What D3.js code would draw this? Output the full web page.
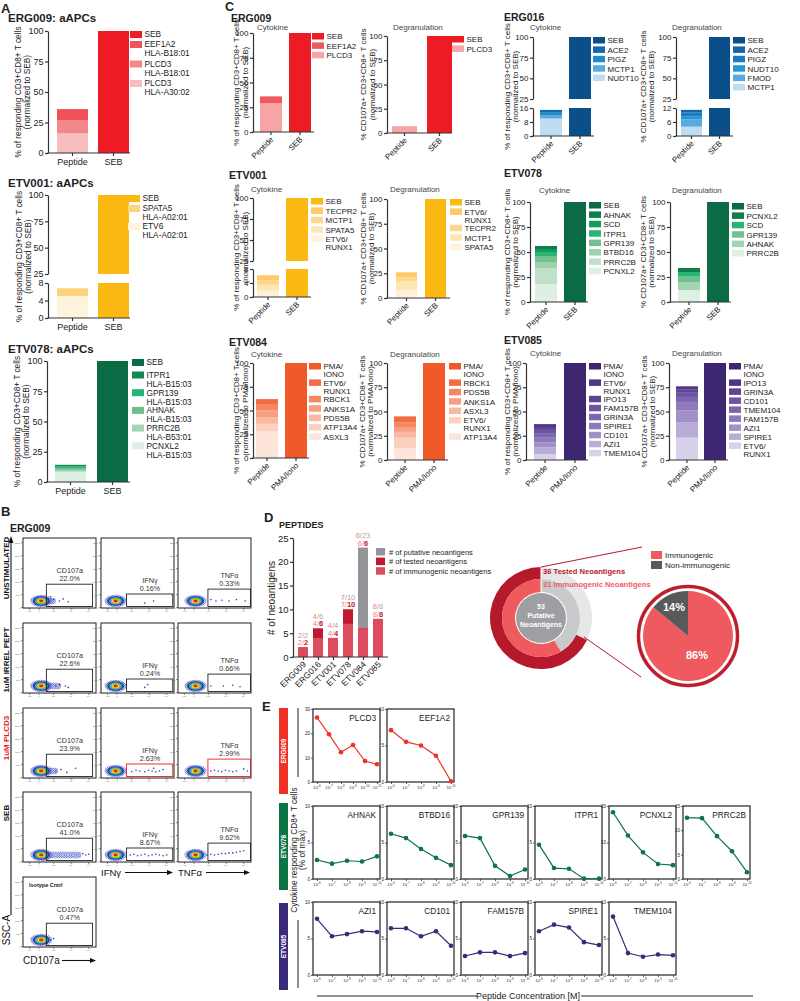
<!DOCTYPE html>
<html><head><meta charset="utf-8">
<script src="https://cdn.jsdelivr.net/npm/d3@7"></script>
<style>body{margin:0;background:#fff}svg{display:block}</style>
</head><body>
<svg id="c" width="800" height="1001" font-family="'Liberation Sans', Arial, Helvetica, sans-serif"></svg>
<script>
// ====================== DATA ======================
const catsSEB = ["Peptide", "SEB"];
const catsPMA = ["Peptide", "PMA/Iono"];
const pctTicks = [0, 25, 50, 75, 100];
const upperTicks = [25, 50, 75, 100];

// Panel A (aAPCs) – first value is control bar, rest peptide stack (legend order, top -> bottom)
const aERG009Legend = ["SEB", "EEF1A2|HLA-B18:01", "PLCD3|HLA-B18:01", "PLCD3|HLA-A30:02"];
const aERG009Values = [100, 9, 11, 16];
const aERG009Colors = ["#ED1C24", "#EF5258", "#F3888B", "#F8BDBE"];

const aETV001Legend = ["SEB", "SPATA5|HLA-A02:01", "ETV6|HLA-A02:01"];
const aETV001Values = [100, 1.8, 5];
const aETV001Colors = ["#FDB913", "#FDD47C", "#FEF3DB"];

const aETV078Legend = ["SEB", "ITPR1|HLA-B15:03", "GPR139|HLA-B15:03", "AHNAK|HLA-B15:03", "PRRC2B|HLA-B53:01", "PCNXL2|HLA-B15:03"];
const aETV078Values = [100, 1.2, 1.5, 1.5, 1.5, 8.5];
const aETV078Colors = ["#0A6B45", "#0F8A50", "#25B574", "#6EBF8C", "#A2D5B1", "#DDEFE3"];

// Panel C
const cERG009CytLegend = ["SEB", "EEF1A2", "PLCD3"];
const cERG009CytValues = [100, 7, 29];
const cERG009CytColors = ["#ED1C24", "#EF5A60", "#F6A4A6"];
const cERG009DegLegend = ["SEB", "PLCD3"];
const cERG009DegValues = [100, 7];
const cERG009DegColors = ["#ED1C24", "#F6A4A6"];

const cERG016CytLegend = ["SEB", "ACE2", "PIGZ", "MCTP1", "NUDT10"];
const cERG016CytValues = [100, 1.6, 1.6, 1.7, 10];
const cERG016CytColors = ["#0B4F8A", "#1268B0", "#1E8BCF", "#5AAAE0", "#BEDCF2"];
const cERG016DegLegend = ["SEB", "ACE2", "PIGZ", "NUDT10", "FMOD", "MCTP1"];
const cERG016DegValues = [100, 1.2, 1.5, 1.4, 3.1, 4];
const cERG016DegColors = ["#0B4F8A", "#1268B0", "#1A7DC3", "#2398D8", "#5AAAE0", "#BEDCF2"];

const cETV001CytLegend = ["SEB", "TECPR2", "MCTP1", "SPATA5", "ETV6/|RUNX1"];
const cETV001CytValues = [100, 1.5, 1.2, 1.7, 1.8];
const cETV001CytColors = ["#FDB913", "#FDCA66", "#FDD88D", "#FEE5B3", "#FEF2DC"];
const cETV001DegLegend = ["SEB", "ETV6/|RUNX1", "TECPR2", "MCTP1", "SPATA5"];
const cETV001DegValues = [100, 5, 4, 9, 8];
const cETV001DegColors = ["#FDB913", "#FDCA66", "#FDD88D", "#FEE5B3", "#FEF2DC"];

const cETV078CytLegend = ["SEB", "AHNAK", "SCD", "ITPR1", "GPR139", "BTBD16", "PRRC2B", "PCNXL2"];
const cETV078CytValues = [100, 3, 3, 4, 6, 6, 16, 18];
const cETV078CytColors = ["#0A6B45", "#0E7F4C", "#129A57", "#2AB574", "#72C08E", "#9DD2AD", "#BFE1C8", "#DEEFE3"];
const cETV078DegLegend = ["SEB", "PCNXL2", "SCD", "GPR139", "AHNAK", "PRRC2B"];
const cETV078DegValues = [100, 4, 4, 6, 8, 12];
const cETV078DegColors = ["#0A6B45", "#0E7F4C", "#2AB574", "#72C08E", "#A2D5B1", "#DEEFE3"];

const cETV084CytLegend = ["PMA/|IONO", "ETV6/|RUNX1", "RBCK1", "ANKS1A", "PDS5B", "ATP13A4", "ASXL3"];
const cETV084CytValues = [100, 6, 6, 7, 7, 8, 28];
const cETV084CytColors = ["#F05A28", "#F26D45", "#F58762", "#F7A081", "#F9B9A0", "#FBD0BF", "#FDE5DA"];
const cETV084DegLegend = ["PMA/|IONO", "RBCK1", "PDS5B", "ANKS1A", "ASXL3", "ETV6/|RUNX1", "ATP13A4"];
const cETV084DegValues = [100, 6, 5, 5, 6, 11, 12];
const cETV084DegColors = ["#F05A28", "#F26D45", "#F58762", "#F7A081", "#F9B9A0", "#FBD0BF", "#FDE5DA"];

const cETV085CytLegend = ["PMA/|IONO", "ETV6/|RUNX1", "IPO13", "FAM157B", "GRIN3A", "SPIRE1", "CD101", "AZI1", "TMEM104"];
const cETV085CytValues = [100, 3, 3, 4, 4, 5, 5, 7, 6];
const cETV085CytColors = ["#3D2770", "#503785", "#5E4594", "#6D55A2", "#7C66AF", "#8D79BB", "#A191C8", "#B9ADD8", "#D8D1EA"];
const cETV085DegLegend = ["PMA/|IONO", "IPO13", "GRIN3A", "CD101", "TMEM104", "FAM157B", "AZI1", "SPIRE1", "ETV6/|RUNX1"];
const cETV085DegValues = [100, 3, 3, 5, 6, 8, 12, 16, 23];
const cETV085DegColors = ["#3D2770", "#503785", "#5E4594", "#6D55A2", "#7C66AF", "#8D79BB", "#A191C8", "#B9ADD8", "#D8D1EA"];

// Panel B (flow)
const bRows = ["UNSTIMULATED", "1uM IRREL PEPT", "1uM PLCD3", "SEB"];
const bCols = ["CD107a", "IFNγ", "TNFα"];
const bPct = [["22.0%", "0.16%", "0.33%"], ["22.6%", "0.24%", "0.66%"], ["23.9%", "2.63%", "2.99%"], ["41.0%", "8.67%", "9.62%"]];
const bIsoPct = "0.47%";
const bTail = [[0.45, 0.3, 0.33], [0.52, 0.3, 0.35], [0.48, 0.3, 0.33], [0.8, 0.3, 0.33]];
const bEvents = [
  [[[0.42,0.88],[0.5,0.9],[0.55,0.87],[0.62,0.91],[0.38,0.84]], [[0.6,0.93],[0.72,0.9]], [[0.45,0.88],[0.52,0.9],[0.6,0.89],[0.7,0.9],[0.8,0.88],[0.92,0.9]]],
  [[[0.45,0.9],[0.5,0.88],[0.58,0.9],[0.62,0.92]], [[0.6,0.92],[0.64,0.88]], [[0.45,0.9],[0.62,0.9],[0.75,0.89],[0.85,0.91]]],
  [[[0.45,0.9],[0.52,0.88],[0.6,0.92],[0.72,0.86]], [[0.42,0.91],[0.48,0.89],[0.53,0.9],[0.6,0.91],[0.65,0.89],[0.7,0.9],[0.75,0.91],[0.8,0.9],[0.85,0.88],[0.72,0.86]], [[0.45,0.9],[0.5,0.89],[0.55,0.9],[0.6,0.91],[0.65,0.89],[0.7,0.9],[0.75,0.91],[0.8,0.9],[0.9,0.87],[0.95,0.9]]],
  [[[0.82,0.88],[0.86,0.9],[0.9,0.89]], [[0.4,0.9],[0.45,0.89],[0.5,0.91],[0.55,0.9],[0.6,0.89],[0.65,0.91],[0.7,0.9],[0.75,0.89],[0.8,0.9],[0.85,0.91],[0.9,0.9]], [[0.4,0.9],[0.45,0.89],[0.5,0.9],[0.55,0.89],[0.6,0.88],[0.65,0.88],[0.7,0.87],[0.75,0.87],[0.8,0.86],[0.85,0.85],[0.9,0.84]]]
];
const bIsoEvents = [[0.38, 0.9], [0.42, 0.88]];

// Panel D
const dCats = ["ERG009", "ERG016", "ETV001", "ETV078", "ETV084", "ETV085"];
const dPutative = [2, 6, 4, 10, 23, 8];
const dTested = [2, 6, 4, 10, 6, 8];
const dImmuno = [2, 4, 4, 7, 6, 8];
const dLegend = ["# of putative neoantigens", "# of tested neoantigens", "# of immunogenic neoantigens"];
const dTicks = [0, 5, 10, 15, 20, 25];
const donutCounts = [53, 36, 31]; // putative, tested, immunogenic
const donutLabels = ["36 Tested Neoantigens", "31 Immunogenic Neoantigens"];
const pieLabels = ["Immunogenic", "Non-immunogenic"];
const pieValues = [86, 14];

// Panel E
const eConc6 = ["-6", "-7", "-8", "-9", "-10", "-11"];
const eConc5 = ["-6", "-7", "-8", "-9", "-10"];
const eRowNames = ["ERG009", "ETV078", "ETV085"];
const eERG009Names = ["PLCD3", "EEF1A2"];
const eERG009Values = [[26.5, 19.6, 12.2, 15.2, 8.6, 7.3], [7.1, 5.5, 5.0, 3.6, 0.1]];
const eERG009Max = [30, 10];
const eETV078Names = ["AHNAK", "BTBD16", "GPR139", "ITPR1", "PCNXL2", "PRRC2B"];
const eETV078Values = [[2.6, 2.1, 2.5, 2.4, 3.1], [6.2, 5.6, 4.1, 2.9, 1.9], [5.9, 5.6, 1.8, 0.4, 1.3], [4.7, 1.5, 1.4, 0.05, 0.05], [18.3, 11.9, 7.3, 4.1, 3.8], [12.6, 12.5, 8.8, 5.7, 1.4]];
const eETV078Max = [10, 10, 10, 10, 20, 15];
const eETV085Names = ["AZI1", "CD101", "FAM157B", "SPIRE1", "TMEM104"];
const eETV085Values = [[7.7, 5.3, 5.6, 6.0, 5.9], [6.4, 6.4, 5.3, 6.0, 4.0], [2.6, 3.1, 3.1, 2.6, 3.0], [6.0, 6.9, 6.5, 4.5, 4.1], [8.0, 3.0, 2.5, 2.8, 2.7]];
const eETV085Max = [10, 10, 10, 10, 10];

// ====================== DRAW ======================
const svg = d3.select("#c");
const AX = "#333";
const FF = "'Liberation Sans', Arial, Helvetica, sans-serif";

// speckle pattern for flow event tails
const defs = svg.append("defs");
const pat = defs.append("pattern").attr("id", "spk").attr("width", 2.4).attr("height", 2.2).attr("patternUnits", "userSpaceOnUse");
pat.append("circle").attr("cx", 0.7).attr("cy", 0.6).attr("r", 0.65).attr("fill", "#2A3CB8");
pat.append("circle").attr("cx", 1.9).attr("cy", 1.7).attr("r", 0.6).attr("fill", "#3347C4");

function txt(g, x, y, s, o = {}) {
  const t = g.append("text").attr("x", x).attr("y", y).text(s)
    .attr("font-size", o.size || 8).attr("fill", o.fill || "#222");
  if (o.anchor) t.attr("text-anchor", o.anchor);
  if (o.bold) t.attr("font-weight", "bold");
  if (o.rot != null) t.attr("transform", `rotate(${o.rot},${x},${y})`);
  return t;
}
function styleAxis(ag, size) {
  ag.attr("font-family", FF);
  ag.select(".domain").attr("stroke", AX).attr("stroke-width", 1.2);
  ag.selectAll(".tick line").attr("stroke", AX).attr("stroke-width", 1.2);
  ag.selectAll(".tick text").attr("font-size", size).attr("fill", "#222");
}

function stackChart(L, legendArr, values, colors, cats) {
  const g = svg.append("g");
  const x = d3.scaleBand().domain(cats).range([L.bx, L.bx + L.bs + L.bw])
    .paddingInner((L.bs - L.bw) / L.bs).paddingOuter(0);
  let yU, yL;
  if (L.brk) {
    yU = d3.scaleLinear().domain([25, 100]).range([L.brk.y25, L.y100]);
    yL = d3.scaleLinear().domain([0, L.brk.lowMax]).range([L.y0, L.brk.yLow]);
  } else {
    yU = d3.scaleLinear().domain([0, 100]).range([L.y0, L.y100]);
  }
  const ctrl = cats[1];
  if (L.brk) {
    g.append("rect").attr("x", x(ctrl)).attr("width", x.bandwidth()).attr("y", yU(values[0]))
      .attr("height", yU(25) - yU(values[0])).attr("fill", colors[0]);
    g.append("rect").attr("x", x(ctrl)).attr("width", x.bandwidth()).attr("y", yL(L.brk.lowMax))
      .attr("height", yL(0) - yL(L.brk.lowMax)).attr("fill", colors[0]);
  } else {
    g.append("rect").attr("x", x(ctrl)).attr("width", x.bandwidth()).attr("y", yU(values[0]))
      .attr("height", yU(0) - yU(values[0])).attr("fill", colors[0]);
  }
  const yS = L.brk ? yL : yU;
  let cum = 0;
  for (let i = values.length - 1; i >= 1; i--) {
    const v = values[i];
    g.append("rect").attr("x", x(cats[0])).attr("width", x.bandwidth())
      .attr("y", yS(cum + v)).attr("height", yS(cum) - yS(cum + v)).attr("fill", colors[i]);
    cum += v;
  }
  const fs = L.tf || 8;
  const ya = g.append("g").attr("transform", `translate(${L.axisX},0)`)
    .call(d3.axisLeft(yU).tickValues(L.brk ? upperTicks : pctTicks).tickSize(3).tickSizeOuter(0).tickPadding(1.5));
  styleAxis(ya, fs);
  if (L.brk) {
    const yb = g.append("g").attr("transform", `translate(${L.axisX},0)`)
      .call(d3.axisLeft(yL).tickValues(L.brk.ticks).tickSize(3).tickSizeOuter(0).tickPadding(1.5));
    styleAxis(yb, fs);
  }
  g.append("line").attr("x1", L.axisX - 0.6).attr("x2", L.xEnd).attr("y1", L.y0).attr("y2", L.y0)
    .attr("stroke", AX).attr("stroke-width", 1.2);
  const xg = g.append("g").attr("transform", `translate(0,${L.y0})`)
    .call(d3.axisBottom(x).tickSize(3).tickSizeOuter(0));
  styleAxis(xg, L.xf || 8);
  xg.select(".domain").remove();
  if (L.rot) {
    xg.selectAll(".tick text").attr("text-anchor", "end").attr("dy", 0).attr("y", 0)
      .attr("transform", "translate(3,8) rotate(-45)");
  } else {
    xg.selectAll(".tick text").attr("y", 5).attr("dy", "0.8em");
  }
  // legend
  let ly = L.legY;
  legendArr.forEach((lab, i) => {
    const lines = lab.split("|");
    g.append("rect").attr("x", L.legX).attr("y", ly).attr("width", L.sw || 12).attr("height", L.sh || 6.5).attr("fill", colors[i]);
    lines.forEach((t, j) => txt(g, L.legX + (L.sw || 12) + 2.5, ly + 6.3 + j * L.lh, t, { size: L.lf || 8 }));
    ly += lines.length > 1 ? L.s2 : L.s1;
  });
  // y label
  const cy = (L.y0 + L.y100) / 2;
  L.yl.forEach((t, j) => txt(g, L.ylx[j] + 3, cy, t, { size: L.ylf || 8, anchor: "middle", rot: -90 }));
  if (L.sub) txt(g, L.sub[0], L.sub[1], L.sub[2], { size: 8, fill: "#444" });
}

// ---------- Panel A ----------
txt(svg, 1, 13, "A", { size: 13, bold: true });
txt(svg, 8, 22, "ERG009: aAPCs", { size: 11.5, bold: true });
txt(svg, 8, 187, "ETV001: aAPCs", { size: 11.5, bold: true });
txt(svg, 8, 353, "ETV078: aAPCs", { size: 11.5, bold: true });
const ylA = ["% of responding CD3+CD8+ T cells", "(normalized to SEB)"];
stackChart({ axisX: 48, y100: 31, y0: 153, bx: 57, bw: 31, bs: 41, xEnd: 130, legX: 130, legY: 31, s1: 10, s2: 19.5, lh: 9, sh: 7, tf: 9, xf: 9, lf: 8.3, ylx: [18, 27], yl: ylA, ylf: 8.3 },
  aERG009Legend, aERG009Values, aERG009Colors, catsSEB);
stackChart({ axisX: 48, y100: 195, y0: 318, brk: { y25: 274, yLow: 283, lowMax: 8, ticks: [0, 4, 8] }, bx: 57, bw: 31, bs: 41, xEnd: 130, legX: 128, legY: 195, s1: 10, s2: 18, lh: 9, sh: 7, tf: 9, xf: 9, lf: 8.3, ylx: [19, 28], yl: ylA, ylf: 8.3 },
  aETV001Legend, aETV001Values, aETV001Colors, catsSEB);
stackChart({ axisX: 47, y100: 361, y0: 482, bx: 55, bw: 31, bs: 42, xEnd: 130, legX: 132, legY: 359, s1: 12.5, s2: 17.7, lh: 9, sh: 7, tf: 9, xf: 9, lf: 8.3, ylx: [17, 26], yl: ylA, ylf: 8.3 },
  aETV078Legend, aETV078Values, aETV078Colors, catsSEB);

// ---------- Panel C ----------
txt(svg, 225, 11, "C", { size: 12.5, bold: true });
[["ERG009", 231, 22], ["ERG016", 504, 21], ["ETV001", 229, 179], ["ETV078", 504, 177], ["ETV084", 229, 346], ["ETV085", 504, 344]]
  .forEach(d => txt(svg, d[1], d[2], d[0], { size: 10.5, bold: true }));
const ylCytSEB = ["% of responding CD3+CD8+ T cells", "(normalized to SEB)"];
const ylDegSEB = ["% CD107a+ CD3+CD8+ T cells", "(normalized to SEB)"];
const ylCytPMA = ["% of responding CD3+CD8+ T cells", "(normalized to PMA/Iono)"];
const ylDegPMA = ["% CD107a+ CD3+CD8+ T cells", "(normalized to PMA/Iono)"];
const C = { rot: true, s1: 9.4, s2: 16.4, lh: 8, tf: 8, xf: 8, lf: 8 };
stackChart(Object.assign({}, C, { axisX: 253, y100: 33, y0: 132, bx: 260, bw: 22, bs: 29, xEnd: 314, legX: 312, legY: 33, ylx: [236, 245], yl: ylCytSEB, sub: [257, 30, "Cytokine"] }),
  cERG009CytLegend, cERG009CytValues, cERG009CytColors, catsSEB);
stackChart(Object.assign({}, C, { axisX: 387, y100: 36, y0: 133, bx: 392, bw: 25, bs: 35, xEnd: 452, legX: 452, legY: 36, ylx: [363, 372], yl: ylDegSEB, sub: [393, 30, "Degranulation"] }),
  cERG009DegLegend, cERG009DegValues, cERG009DegColors, catsSEB);
stackChart(Object.assign({}, C, { axisX: 533, y100: 37, y0: 136, brk: { y25: 99, yLow: 108, lowMax: 16, ticks: [0, 8, 16] }, bx: 540, bw: 22, bs: 29, xEnd: 594, legX: 593, legY: 37, ylx: [507, 515], yl: ylCytSEB, sub: [530, 30, "Cytokine"] }),
  cERG016CytLegend, cERG016CytValues, cERG016CytColors, catsSEB);
stackChart(Object.assign({}, C, { axisX: 676, y100: 37, y0: 136, brk: { y25: 99, yLow: 108, lowMax: 12, ticks: [0, 6, 12] }, bx: 681, bw: 21, bs: 28, xEnd: 733, legX: 733, legY: 37, ylx: [643, 651], yl: ylDegSEB, sub: [672, 30, "Degranulation"] }),
  cERG016DegLegend, cERG016DegValues, cERG016DegColors, catsSEB);
stackChart(Object.assign({}, C, { axisX: 253, y100: 198, y0: 297, brk: { y25: 261, yLow: 269, lowMax: 8, ticks: [0, 4, 8] }, bx: 257, bw: 22, bs: 29, xEnd: 311, legX: 311, legY: 198, ylx: [236, 245], yl: ylCytSEB, sub: [251, 192, "Cytokine"] }),
  cETV001CytLegend, cETV001CytValues, cETV001CytColors, catsSEB);
stackChart(Object.assign({}, C, { axisX: 387, y100: 199, y0: 298, bx: 396, bw: 21, bs: 29, xEnd: 450, legX: 450, legY: 199, ylx: [363, 371], yl: ylDegSEB, sub: [390, 192, "Degranulation"] }),
  cETV001DegLegend, cETV001DegValues, cETV001DegColors, catsSEB);
stackChart(Object.assign({}, C, { axisX: 530, y100: 202, y0: 302, bx: 535, bw: 22, bs: 29, xEnd: 588, legX: 589, legY: 202, ylx: [507, 515], yl: ylCytSEB, sub: [539, 193, "Cytokine"] }),
  cETV078CytLegend, cETV078CytValues, cETV078CytColors, catsSEB);
stackChart(Object.assign({}, C, { axisX: 670, y100: 202, y0: 302, bx: 678, bw: 22, bs: 29, xEnd: 731, legX: 732, legY: 203, ylx: [643, 651], yl: ylDegSEB, sub: [672, 193, "Degranulation"] }),
  cETV078DegLegend, cETV078DegValues, cETV078DegColors, catsSEB);
stackChart(Object.assign({}, C, { axisX: 253, y100: 363, y0: 458, bx: 256, bw: 22, bs: 29, xEnd: 309, legX: 309, legY: 363, ylx: [236, 245], yl: ylCytPMA, sub: [251, 357, "Cytokine"] }),
  cETV084CytLegend, cETV084CytValues, cETV084CytColors, catsPMA);
stackChart(Object.assign({}, C, { axisX: 387, y100: 363, y0: 460, bx: 394, bw: 22, bs: 29, xEnd: 448, legX: 449, legY: 363, ylx: [362, 370], yl: ylDegPMA, sub: [390, 357, "Degranulation"] }),
  cETV084DegLegend, cETV084DegValues, cETV084DegColors, catsPMA);
stackChart(Object.assign({}, C, { axisX: 526, y100: 363, y0: 460, bx: 534, bw: 22, bs: 30, xEnd: 588, legX: 589, legY: 363, s1: 9, ylx: [507, 515], yl: ylCytPMA, sub: [530, 356, "Cytokine"] }),
  cETV085CytLegend, cETV085CytValues, cETV085CytColors, catsPMA);
stackChart(Object.assign({}, C, { axisX: 669, y100: 363, y0: 460, bx: 676, bw: 22, bs: 28, xEnd: 728, legX: 729, legY: 363, s1: 9, ylx: [644, 652], yl: ylDegSEB, sub: [672, 356, "Degranulation"] }),
  cETV085DegLegend, cETV085DegValues, cETV085DegColors, catsPMA);

// ---------- Panel B ----------
(function () {
  const g = svg.append("g");
  txt(g, 1, 516, "B", { size: 13, bold: true });
  txt(g, 10, 532, "ERG009", { size: 10.5, bold: true });
  const colX = [23, 101, 178], rowY = [538, 623, 708, 792], W = 73, H = 70;
  const gates = [[0.32, 0.66, 0.96, 1], [0.35, 0.8, 0.99, 1], [0.41, 0.73, 1, 1]];
  const blobX = [0.25, 0.2, 0.24];
  const xs = d3.scaleLinear().domain([0, 1]);
  const ys = d3.scaleLinear().domain([0, 1]);
  function plot(x0, y0, col, label, pct, tail, events, red) {
    const sx = xs.copy().range([x0, x0 + W]), sy = ys.copy().range([y0, y0 + H]);
    g.append("rect").attr("x", x0).attr("y", y0).attr("width", W).attr("height", H)
      .attr("fill", "none").attr("stroke", "#222").attr("stroke-width", 1);
    for (let i = 0; i <= 5; i++) {
      const yy = sy(1 - i * 0.185) - 0.5;
      g.append("line").attr("x1", x0 - 2).attr("x2", x0).attr("y1", yy).attr("y2", yy).attr("stroke", "#444").attr("stroke-width", 0.6);
      txt(g, x0 - 2.5, yy + 1, i === 0 ? "0" : (i * 50) + "K", { size: 2.4, anchor: "end", fill: "#666" });
    }
    for (let i = 0; i < 20; i++) {
      const yy = sy(1 - i * 0.0462);
      g.append("line").attr("x1", x0 - 1).attr("x2", x0).attr("y1", yy).attr("y2", yy).attr("stroke", "#777").attr("stroke-width", 0.4);
    }
    [0.09, 0.22, 0.42, 0.66, 0.9].forEach((p, i) => {
      const xx = sx(p);
      g.append("line").attr("x1", xx).attr("x2", xx).attr("y1", y0 + H).attr("y2", y0 + H + 2).attr("stroke", "#444").attr("stroke-width", 0.6);
      txt(g, xx, y0 + H + 4.2, ["-10³", "0", "10³", "10⁴", "10⁵"][i], { size: 2.4, anchor: "middle", fill: "#666" });
    });
    for (let i = 0; i < 24; i++) {
      const xx = sx(0.03 + i * 0.04);
      g.append("line").attr("x1", xx).attr("x2", xx).attr("y1", y0 + H).attr("y2", y0 + H + 1).attr("stroke", "#777").attr("stroke-width", 0.4);
    }
    const cx = sx(blobX[col]), cy = sy(0.9);
    g.append("rect").attr("x", cx).attr("y", cy - 3.2).attr("width", Math.max(0, sx(tail) - cx)).attr("height", 6.4)
      .attr("rx", 3).attr("fill", "url(#spk)");
    g.append("ellipse").attr("cx", cx).attr("cy", cy).attr("rx", 11).attr("ry", 6.2).attr("fill", "url(#spk)");
    g.append("ellipse").attr("cx", cx).attr("cy", cy).attr("rx", 8.5).attr("ry", 4.8).attr("fill", "#2A3CB8");
    g.append("ellipse").attr("cx", cx).attr("cy", cy).attr("rx", 6.5).attr("ry", 3.8).attr("fill", "#35A8B5");
    g.append("ellipse").attr("cx", cx).attr("cy", cy).attr("rx", 5).attr("ry", 2.9).attr("fill", "#7DC242");
    g.append("ellipse").attr("cx", cx).attr("cy", cy).attr("rx", 3.6).attr("ry", 2.1).attr("fill", "#F2E51E");
    g.append("ellipse").attr("cx", cx).attr("cy", cy).attr("rx", 2.3).attr("ry", 1.4).attr("fill", "#ED1C24");
    events.forEach(e => g.append("circle").attr("cx", sx(e[0])).attr("cy", sy(e[1])).attr("r", 0.8).attr("fill", "#2A3CB8"));
    const gt = gates[col];
    g.append("rect").attr("x", sx(gt[0])).attr("y", sy(gt[1])).attr("width", sx(gt[2]) - sx(gt[0]) - 0.5)
      .attr("height", sy(gt[3]) - sy(gt[1]) - 1.5).attr("fill", "none")
      .attr("stroke", red ? "#ED1C24" : "#222").attr("stroke-width", 0.9);
    const tx = (sx(gt[0]) + sx(gt[2])) / 2;
    txt(g, tx, sy(gt[1]) - 11, label, { size: 7.2, anchor: "middle", fill: "#333" });
    txt(g, tx, sy(gt[1]) - 3, pct, { size: 7.2, anchor: "middle", fill: "#333" });
  }
  bRows.forEach((r, ri) => bCols.forEach((c, ci) => {
    const red = ri === 2 && ci > 0;
    plot(colX[ci], rowY[ri], ci, c, bPct[ri][ci], bTail[ri][ci], bEvents[ri][ci], red);
  }));
  plot(23, 877, 0, "CD107a", bIsoPct, 0.33, bIsoEvents, false);
  txt(g, 29, 887, "Isotype Cntrl", { size: 5.5, bold: true, fill: "#222" });
  const rowC = [568, 660, 738, 813];
  bRows.forEach((r, i) => txt(g, 8.5, rowC[i], r, { size: 8, bold: true, anchor: "middle", rot: -90, fill: i === 2 ? "#ED1C24" : "#111" }));
  g.append("line").attr("x1", 11).attr("x2", 11).attr("y1", 915).attr("y2", 541).attr("stroke", "#111").attr("stroke-width", 1.1);
  g.append("path").attr("d", "M11,536 L8.5,543 L13.5,543 Z").attr("fill", "#111");
  txt(g, 9.5, 930, "SSC-A", { size: 10, anchor: "middle", rot: -90, fill: "#111" });
  function harrow(x1, x2, y) {
    g.append("line").attr("x1", x1).attr("x2", x2 - 4).attr("y1", y).attr("y2", y).attr("stroke", "#111").attr("stroke-width", 1.1);
    g.append("path").attr("d", `M${x2},${y} L${x2 - 6},${y - 2.5} L${x2 - 6},${y + 2.5} Z`).attr("fill", "#111");
  }
  txt(g, 23, 964, "CD107a", { size: 10, fill: "#111" }); harrow(62, 96, 960.5);
  txt(g, 101, 876, "IFNγ", { size: 9.5, fill: "#111" }); harrow(125, 173, 872.5);
  txt(g, 178, 876, "TNFα", { size: 9.5, fill: "#111" }); harrow(206, 250, 872.5);
})();

// ---------- Panel D ----------
(function () {
  const g = svg.append("g");
  txt(g, 264, 522, "D", { size: 13, bold: true });
  txt(g, 279, 528, "PEPTIDES", { size: 9, bold: true });
  const y = d3.scaleLinear().domain([0, 25]).range([657, 538]);
  const x = d3.scalePoint().domain(dCats).range([303, 378]);
  const bw = 10;
  const cPut = "#939598", cTest = "#C1172F", cImm = "#DC4B5E";
  [[dPutative, cPut], [dTested, cTest], [dImmuno, cImm]].forEach(([arr, col]) => {
    g.selectAll(null).data(dCats).enter().append("rect")
      .attr("x", d => x(d) - bw / 2).attr("width", bw)
      .attr("y", (d, i) => y(arr[i])).attr("height", (d, i) => y(0) - y(arr[i])).attr("fill", col);
  });
  const ya = g.append("g").attr("transform", "translate(293,0)")
    .call(d3.axisLeft(y).tickValues(dTicks).tickSize(3).tickSizeOuter(0).tickPadding(1.5));
  styleAxis(ya, 9.5);
  g.append("line").attr("x1", 292.4).attr("x2", 388).attr("y1", 657).attr("y2", 657).attr("stroke", AX).attr("stroke-width", 1.2);
  const xa = g.append("g").attr("transform", "translate(0,657)").call(d3.axisBottom(x).tickSize(3).tickSizeOuter(0));
  styleAxis(xa, 8.5); xa.select(".domain").remove();
  xa.selectAll(".tick text").attr("text-anchor", "end").attr("dy", 0).attr("y", 0).attr("transform", "translate(3,8) rotate(-45)");
  txt(g, 275, 598, "# of neoantigens", { size: 10, anchor: "middle", rot: -90 });
  dCats.forEach((c, i) => {
    const top = y(dPutative[i]);
    const t1 = g.append("text").attr("x", x(c)).attr("y", top - 9.5).attr("font-size", 7.5).attr("text-anchor", "middle");
    t1.append("tspan").attr("fill", "#F27B8C").text(dImmuno[i]);
    t1.append("tspan").attr("fill", "#A7A9AC").text("/" + dPutative[i]);
    const t2 = g.append("text").attr("x", x(c)).attr("y", top - 2).attr("font-size", 7.5).attr("text-anchor", "middle");
    t2.append("tspan").attr("fill", "#F27B8C").text(dImmuno[i] + "/");
    t2.append("tspan").attr("fill", cTest).attr("font-weight", "bold").text(dTested[i]);
  });
  [cPut, cTest, cImm].forEach((col, i) => {
    g.append("rect").attr("x", 376).attr("y", 548 + i * 9.6).attr("width", 9).attr("height", 7.5).attr("fill", col);
    txt(g, 389, 554.5 + i * 9.6, dLegend[i], { size: 7.5 });
  });

  // donut
  const cx = 541, cy = 618;
  const arc = d3.arc();
  const [tot, tes, imm] = donutCounts;
  const aT = 2 * Math.PI * (tot - tes) / tot;
  const aI = 2 * Math.PI * (tot - imm) / tot;
  const dg = g.append("g").attr("transform", `translate(${cx},${cy})`);
  const seg = [
    [39, 51, 0, aT, "#E6E7E8"], [39, 51, aT, 2 * Math.PI, "#B5192B"],
    [26, 39, 0, aI, "#C9CACC"], [26, 39, aI, 2 * Math.PI, "#EF5A5F"]
  ];
  seg.forEach(s => dg.append("path").attr("d", arc({ innerRadius: s[0], outerRadius: s[1], startAngle: s[2], endAngle: s[3] })).attr("fill", s[4]));
  dg.append("line").attr("x1", 0).attr("x2", 0).attr("y1", -26).attr("y2", -51).attr("stroke", "#fff").attr("stroke-width", 1);
  dg.append("circle").attr("r", 25).attr("fill", "#9D9FA2");
  txt(dg, 0, -9, String(tot), { size: 7, bold: true, anchor: "middle", fill: "#fff" });
  txt(dg, 0, 0, "Putative", { size: 7, bold: true, anchor: "middle", fill: "#fff" });
  txt(dg, 0, 9, "Neoantigens", { size: 7, bold: true, anchor: "middle", fill: "#fff" });
  txt(g, 543, 574, donutLabels[0], { size: 7.6, bold: true, fill: "#B5192B" });
  txt(g, 543, 587, donutLabels[1], { size: 7.6, bold: true, fill: "#EF5A5F" });
  g.append("line").attr("x1", 541).attr("y1", 567).attr("x2", 642).attr("y2", 547).attr("stroke", "#B5192B").attr("stroke-width", 1);
  g.append("line").attr("x1", 584).attr("y1", 637).attr("x2", 641).attr("y2", 677).attr("stroke", "#B5192B").attr("stroke-width", 1);

  // pie
  const pg = g.append("g").attr("transform", "translate(688,636)");
  const pie = d3.pie().sort(null).startAngle(0).endAngle(2 * Math.PI);
  const arcs = pie(pieValues);
  const pieCols = ["#EF5A5F", "#58595B"];
  const pa = d3.arc().innerRadius(0).outerRadius(45);
  arcs.forEach((a, i) => pg.append("path").attr("d", pa(a)).attr("fill", pieCols[i]));
  pg.append("circle").attr("r", 49.5).attr("fill", "none").attr("stroke", "#BE1E2D").attr("stroke-width", 3.5);
  txt(pg, -14, -25, pieValues[1] + "%", { size: 11, bold: true, anchor: "middle", fill: "#fff" });
  txt(pg, 9, 23, pieValues[0] + "%", { size: 11, bold: true, anchor: "middle", fill: "#fff" });
  pieLabels.forEach((l, i) => {
    g.append("rect").attr("x", 651).attr("y", 551 + i * 10).attr("width", 11).attr("height", 8).attr("fill", pieCols[i]);
    txt(g, 665, 558 + i * 10, l, { size: 8 });
  });
})();

// ---------- Panel E ----------
(function () {
  const g = svg.append("g");
  txt(g, 262, 711, "E", { size: 13, bold: true });
  const rowTop = [709, 806, 902], H = 73, W = 67, step = 74, x0 = 313;
  const rowCols = ["#EE3124", "#0E7446", "#3B2A79"];
  const rowRect = [[708, 86], [803, 87], [903, 87]];
  const rows = [
    [eERG009Names, eERG009Values, eERG009Max],
    [eETV078Names, eETV078Values, eETV078Max],
    [eETV085Names, eETV085Values, eETV085Max]
  ];
  rows.forEach(([names, vals, maxs], ri) => {
    const col = rowCols[ri];
    g.append("rect").attr("x", 279).attr("y", rowRect[ri][0]).attr("width", 9).attr("height", rowRect[ri][1]).attr("fill", col);
    txt(g, 286, rowRect[ri][0] + rowRect[ri][1] / 2, eRowNames[ri], { size: 6.5, bold: true, anchor: "middle", rot: -90, fill: "#fff" });
    names.forEach((nm, pi) => {
      const bx = x0 + pi * step, by = rowTop[ri];
      const conc = vals[pi].length === 6 ? eConc6 : eConc5;
      const x = d3.scalePoint().domain(conc).range([bx + 4, bx + W - 3]);
      const y = d3.scaleLinear().domain([0, maxs[pi]]).range([by + H, by]);
      g.append("rect").attr("x", bx).attr("y", by).attr("width", W).attr("height", H)
        .attr("fill", "none").attr("stroke", "#222").attr("stroke-width", 1.2);
      const tv = d3.range(0, maxs[pi] + 0.1, maxs[pi] >= 20 ? 10 : 5);
      const ya = g.append("g").attr("transform", `translate(${bx},0)`)
        .call(d3.axisLeft(y).tickValues(tv).tickSize(2).tickSizeOuter(0).tickPadding(1));
      styleAxis(ya, 4.5); ya.select(".domain").remove();
      ya.selectAll(".tick line").attr("stroke-width", 0.8);
      const xa = g.append("g").attr("transform", `translate(0,${by + H})`)
        .call(d3.axisBottom(x).tickSize(2).tickSizeOuter(0).tickFormat(() => ""));
      styleAxis(xa, 4); xa.select(".domain").remove();
      xa.selectAll(".tick line").attr("stroke-width", 0.8);
      conc.forEach(c => {
        const t = g.append("text").attr("x", x(c)).attr("y", by + H + 7).attr("font-size", 4.2).attr("fill", "#333").attr("text-anchor", "middle");
        t.append("tspan").text("10");
        t.append("tspan").attr("dy", -1.8).attr("font-size", 3).text(c);
      });
      const line = d3.line().x((d, i) => x(conc[i])).y(d => y(d));
      g.append("path").attr("d", line(vals[pi])).attr("fill", "none").attr("stroke", col).attr("stroke-width", 1.2);
      vals[pi].forEach((v, i) => g.append("circle").attr("cx", x(conc[i])).attr("cy", y(v)).attr("r", 2.3).attr("fill", col));
      txt(g, bx + W - 4, by + 12, nm, { size: 8.3, anchor: "end", fill: "#222" });
    });
  });
  txt(g, 297, 850, "Cytokine responding CD8+ T cells", { size: 8.3, anchor: "middle", rot: -90 });
  txt(g, 305, 850, "(% of max)", { size: 8.3, anchor: "middle", rot: -90 });
  g.append("line").attr("x1", 298).attr("x2", 298).attr("y1", 708).attr("y2", 777).attr("stroke", "#222").attr("stroke-width", 1);
  g.append("line").attr("x1", 298).attr("x2", 298).attr("y1", 920).attr("y2", 988).attr("stroke", "#222").attr("stroke-width", 1);
  txt(g, 528, 999, "Peptide Concentration [M]", { size: 9, anchor: "middle" });
  g.append("line").attr("x1", 317).attr("x2", 477).attr("y1", 996).attr("y2", 996).attr("stroke", "#222").attr("stroke-width", 1);
  g.append("line").attr("x1", 581).attr("x2", 753).attr("y1", 996).attr("y2", 996).attr("stroke", "#222").attr("stroke-width", 1);
})();
</script>
</body></html>
